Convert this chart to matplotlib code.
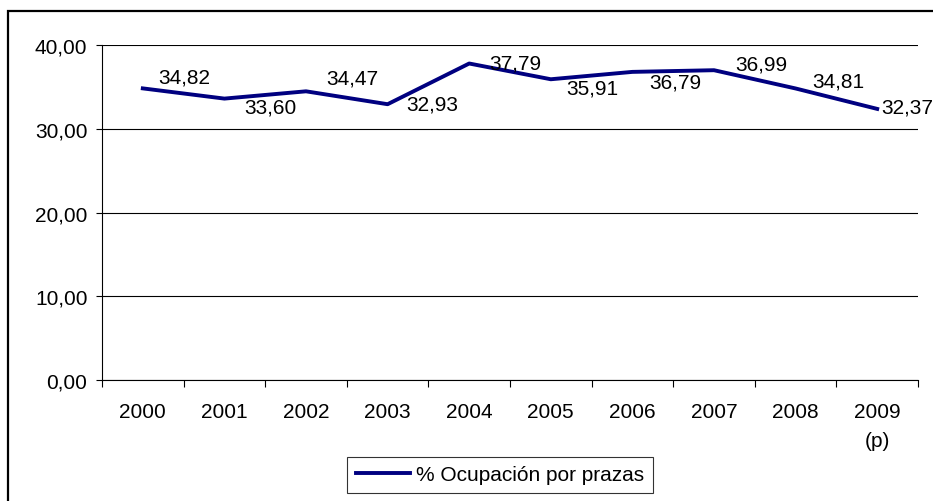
import matplotlib
matplotlib.use("Agg")
import matplotlib.pyplot as plt
from matplotlib.patches import Rectangle
from matplotlib.ticker import FixedLocator

plt.rcParams['font.family'] = ['Liberation Sans', 'DejaVu Sans']

years = ['2000', '2001', '2002', '2003', '2004', '2005', '2006', '2007', '2008', '2009\n(p)']
ocupacion = [34.82, 33.60, 34.47, 32.93, 37.79, 35.91, 36.79, 36.99, 34.81, 32.37]
series_name = '% Ocupación por prazas'

# label offsets (pixels) relative to each point, as placed in the original
label_dx = [41, 46, 46, 45, 46, 42, 43, 47, 43, 30]
label_dy = [11, -8, 13, 0, 1, -9, -10, 6, 7, 2]

fig = plt.figure(figsize=(9.33, 5.02), dpi=100)
ax = fig.add_axes([102 / 933, 1 - 381 / 502, (918 - 102) / 933, (381 - 46) / 502])

x = list(range(len(years)))
line, = ax.plot(x, ocupacion, color='#000080', lw=2.8, label=series_name, zorder=3)

for xi, v, dx, dy in zip(x, ocupacion, label_dx, label_dy):
    txt = f'{v:.2f}'.replace('.', ',')
    ax.annotate(txt, xy=(xi, v), xytext=(dx, dy), textcoords='offset pixels',
                ha='center', va='center', fontsize=15, annotation_clip=False)

ax.set_xlim(-0.5, len(years) - 0.5)
ax.set_ylim(0, 40)
ax.set_yticks([0, 10, 20, 30, 40])
ax.set_yticklabels([f'{t:.2f}'.replace('.', ',') for t in [0, 10, 20, 30, 40]])
ax.yaxis.grid(True, color='black', lw=0.8)
ax.set_axisbelow(True)

ax.set_xticks(x)
ax.set_xticklabels(years, va='top', linespacing=1.65)
ax.xaxis.set_minor_locator(FixedLocator([i - 0.5 for i in range(len(years) + 1)]))
ax.tick_params(axis='x', which='major', length=0, pad=16, labelsize=15)
ax.tick_params(axis='x', which='minor', length=5, width=0.8, direction='out')
ax.tick_params(axis='y', length=4.5, width=0.8, direction='out', pad=6, labelsize=15)

for s in ['top', 'right']:
    ax.spines[s].set_visible(False)
for s in ['left', 'bottom']:
    ax.spines[s].set_linewidth(0.8)
    ax.spines[s].set_color('black')

leg = fig.legend(handles=[line], loc='upper center', bbox_to_anchor=(500 / 933, 1 - 458 / 502),
                 frameon=True, fancybox=False, edgecolor='black', fontsize=15,
                 handlelength=2.6, handletextpad=0.3, borderpad=0.4, borderaxespad=0)
leg.get_frame().set_linewidth(0.8)

# outer chart border
fig.patches.append(Rectangle((8 / 933, -0.05), 1.1, 1 - 12 / 502 + 0.05,
                             transform=fig.transFigure, fill=False,
                             edgecolor='black', lw=1.6))

fig.savefig('out.png', dpi=100)
